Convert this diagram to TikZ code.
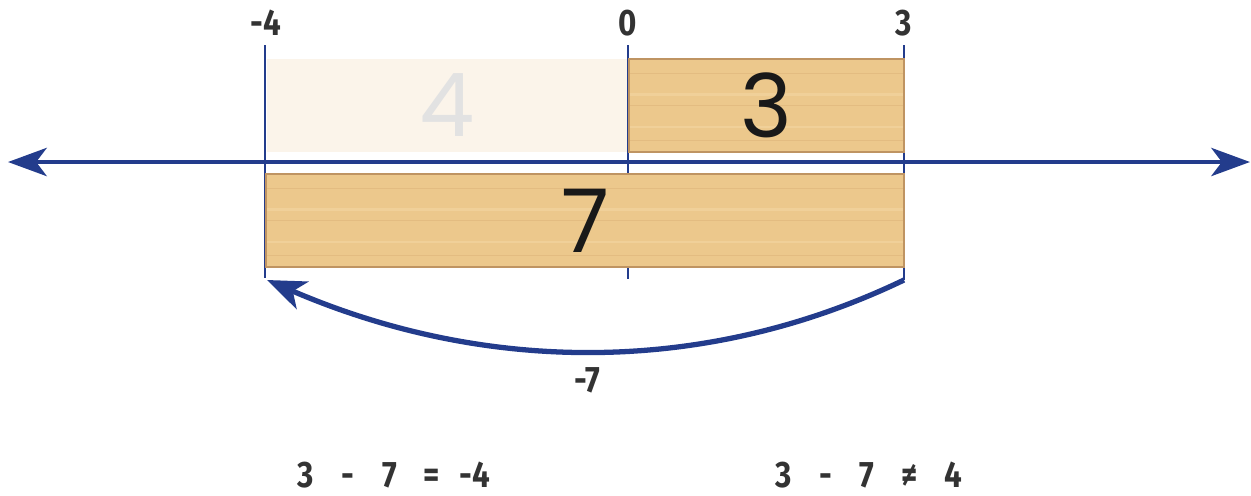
\documentclass[tikz,border=0pt]{standalone}
\usepackage{fontspec}
\usetikzlibrary{calc,arrows.meta}
\newfontfamily\bigdig{Poppins}
\newfontfamily\lab[FakeStretch=0.85]{Fira Sans Bold}
\definecolor{nlblue}{HTML}{233C8C}
\definecolor{txt}{HTML}{333333}
\definecolor{woodfill}{HTML}{ECC88C}
\definecolor{woodedge}{HTML}{BF9462}
\definecolor{woodline}{HTML}{DDB57A}
\definecolor{woodlight}{HTML}{F3D6A2}
\definecolor{fadefill}{HTML}{FBF4EA}
\definecolor{fadetxt}{HTML}{E2E2E2}
\tikzset{
  wood/.style={draw=woodedge, line width=1.4pt, fill=woodfill, inner sep=0pt,
    path picture={
      \foreach \f/\c/\w in {0.12/woodline/0.5pt,0.27/woodlight/1.4pt,0.5/woodline/0.8pt,0.62/woodlight/1.6pt,0.84/woodline/0.5pt}
        \draw[\c, line width=\w, opacity=0.6]
          ($(path picture bounding box.south west)!\f!(path picture bounding box.north west)$) -- ++(30cm,0);
    },
    font=\bigdig\fontsize{50}{50}\selectfont, text=black!90},
  fade/.style={fill=fadefill, inner sep=0pt, font=\bigdig\fontsize{50}{50}\selectfont, text=fadetxt},
  tick/.style={draw=nlblue, line width=1.2pt},
  lbl/.style={font=\lab\fontsize{21}{21}\selectfont, text=txt, inner sep=0pt},
  eq/.style={font=\lab\fontsize{21}{21}\selectfont, text=txt, inner sep=0pt, anchor=base},
}
\begin{document}
\begin{tikzpicture}[x=0.02cm,y=-0.02cm]
\useasboundingbox (0,0) rectangle (1251,495);
% tick coordinates
\coordinate (tm4t) at (265,45); \coordinate (tm4b) at (265,278);
\coordinate (t0t) at (628,45);  \coordinate (t0b) at (628,279);
\coordinate (t3t) at (904,45);  \coordinate (t3b) at (904,280);
\draw[tick] (tm4t) -- (tm4b);
\draw[tick] (t0t) -- (t0b);
\draw[tick] (t3t) -- (t3b);
% faded box
\node[fade, minimum width=7.22cm, minimum height=1.86cm] (b4) at (447,105.5) {4};
% wood boxes
\node[wood, minimum width=5.5cm, minimum height=1.86cm] (b3) at (766.5,105.5) {3};
\node[wood, minimum width=12.76cm, minimum height=1.86cm] (b7) at (585,220.5) {7};
% number line
\coordinate (nlL) at (8,162); \coordinate (nlR) at (1250,162);
\draw[nlblue, line width=2.8pt, {Stealth[length=22pt,width=16pt,inset=6pt]}-{Stealth[length=22pt,width=16pt,inset=6pt]}] (nlL) -- (nlR);
% labels
\node[lbl] (lm4) at (266,23) {-4};
\node[lbl] (l0) at (628,23) {0};
\node[lbl] (l3) at (904,23) {3};
% arc
\coordinate (arcEnd) at (267,280);
\draw[nlblue, line width=3pt, -{Stealth[length=22pt,width=17pt,inset=6pt]}] (t3b) .. controls (700,378) and (480,372) .. (arcEnd);
\node[lbl] (lm7) at (587,380) {-7};
% equations
\node[eq] (e1) at (306,487) {3};
\node[eq] (e2) at (348,487) {-};
\node[eq] (e3) at (390,487) {7};
\node[eq] (e4) at (432,487) {=};
\node[eq] (e5) at (475,487) {-4};
\node[eq] (f1) at (784,487) {3};
\node[eq] (f2) at (826,487) {-};
\node[eq] (f3) at (867,487) {7};
\node[eq] (f4) at (910,487) {≠};
\node[eq] (f5) at (953,487) {4};
\end{tikzpicture}
\end{document}
